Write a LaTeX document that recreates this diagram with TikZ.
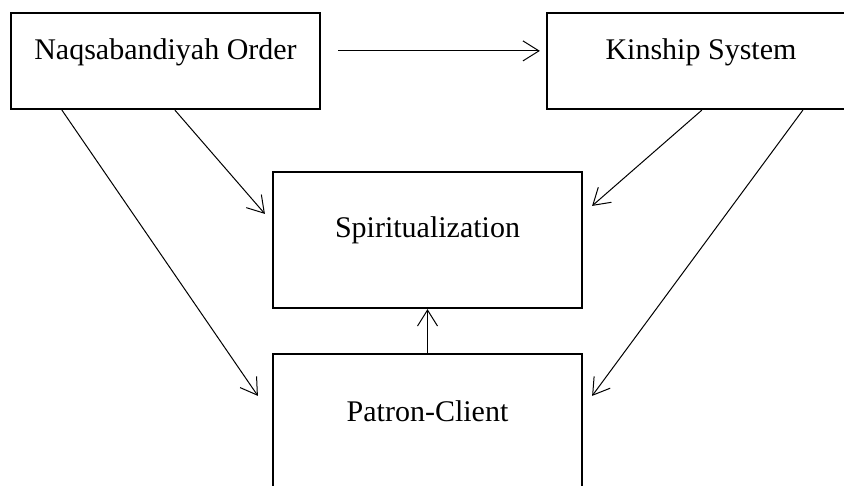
\documentclass[tikz,border=0pt]{standalone}
\usepackage{fontspec}
\setmainfont{Liberation Serif}
\usetikzlibrary{arrows.meta,calc}
\tikzset{
  boxnode/.style={draw, line width=2.2pt, inner sep=0pt, minimum width=309pt},
  labeltext/.style={anchor=base, inner sep=0pt, font=\fontsize{30}{34}\selectfont},
  arr/.style={line width=1pt, -{Straight Barb[length=16pt,width=20pt,line width=1pt]}}
}
\begin{document}
\begin{tikzpicture}[x=1pt,y=-1pt]
\useasboundingbox (0,0) rectangle (844,486);
\clip (0,0) rectangle (844,486);
\node[boxnode, minimum height=96pt] (A) at (165.5,61) {};
\node[boxnode, minimum height=96pt] (B) at (701.5,61) {};
\node[boxnode, minimum height=136pt] (S) at (427.5,240) {};
\node[boxnode, minimum height=136pt] (P) at (427.5,422) {};
\node[labeltext] (At) at (165.5,60) {Naqsabandiyah Order};
\node[labeltext] (Bt) at (701,60) {Kinship System};
\node[labeltext] (St) at (427.5,238) {Spiritualization};
\node[labeltext] (Pt) at (427.5,421) {Patron-Client};
\draw[arr] ($(A.north east)+(17,39)$) -- ($(B.north west)+(-6,39)$);
\draw[arr] ($(A.south west)+(165,0)$) -- ($(S.north west)+(-7,43)$);
\draw[arr] ($(A.south west)+(52,0)$) -- ($(P.north west)+(-14,43)$);
\draw[arr] ($(B.south west)+(156,0)$) -- ($(S.north east)+(9,35)$);
\draw[arr] ($(B.south west)+(257,0)$) -- ($(P.north east)+(9,43)$);
\draw[arr] (P.north) -- (S.south);
\end{tikzpicture}
\end{document}
